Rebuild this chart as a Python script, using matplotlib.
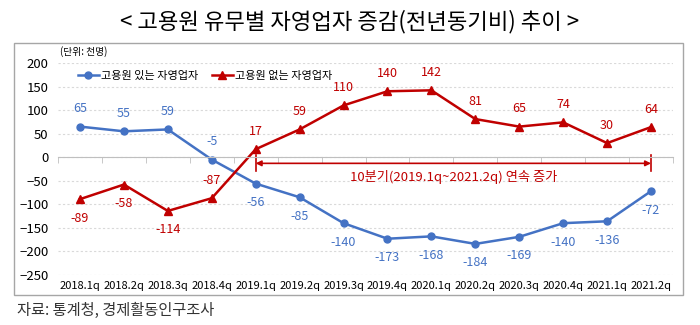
import matplotlib
matplotlib.use("Agg")
import matplotlib.pyplot as plt
from matplotlib.patches import Rectangle
import numpy as np

plt.rcParams["font.family"] = ["Noto Sans CJK KR", "DejaVu Sans"]

# ── 데이터 ────────────────────────────────────────────────
quarters = ["2018.1q", "2018.2q", "2018.3q", "2018.4q",
            "2019.1q", "2019.2q", "2019.3q", "2019.4q",
            "2020.1q", "2020.2q", "2020.3q", "2020.4q",
            "2021.1q", "2021.2q"]
with_emp = [65, 55, 59, -5, -56, -85, -140, -173, -168, -184, -169, -140, -136, -72]
without_emp = [-89, -58, -114, -87, 17, 59, 110, 140, 142, 81, 65, 74, 30, 64]
with_label_above = [True, True, True, True] + [False] * 10
without_label_above = [False, False, False, True] + [True] * 10

BLUE = "#4472C4"
RED = "#C00000"

fig = plt.figure(figsize=(7, 3.25), dpi=100)
ax = fig.add_axes([58 / 700, 50 / 325, 615 / 700, 212 / 325])

x = np.arange(len(quarters))
ax.plot(x, with_emp, color=BLUE, lw=1.8, marker="o", ms=5,
        label="고용원 있는 자영업자")
ax.plot(x, without_emp, color=RED, lw=1.8, marker="^", ms=5.5,
        label="고용원 없는 자영업자")

for xi, v, up in zip(x, with_emp, with_label_above):
    ax.annotate(f"{v}", (xi, v), xytext=(0, 8 if up else -9),
                textcoords="offset points", ha="center",
                va="bottom" if up else "top", fontsize=9, color=BLUE)
for xi, v, up in zip(x, without_emp, without_label_above):
    ax.annotate(f"{v}", (xi, v), xytext=(0, 8 if up else -9),
                textcoords="offset points", ha="center",
                va="bottom" if up else "top", fontsize=9, color=RED)

# 연속 증가 구간 화살표
ax.annotate("", xy=(4, -13), xytext=(13, -13),
            arrowprops=dict(arrowstyle="<|-|>", color=RED, lw=1.2,
                            mutation_scale=8, shrinkA=0, shrinkB=0))
ax.plot([4, 4], [5, -30], color=RED, lw=1.2)
ax.plot([13, 13], [5, -30], color=RED, lw=1.2)
ax.text(8.5, -41, "10분기(2019.1q~2021.2q) 연속 증가", color=RED,
        fontsize=9.5, ha="center", va="center")

# 축
ax.set_xlim(-0.5, 13.5)
ax.set_ylim(-250, 200)
ax.set_yticks(np.arange(-250, 201, 50))
ax.tick_params(axis="y", length=0, labelsize=9.5, pad=7)
ax.yaxis.grid(True, linestyle=(0, (2, 2)), color="#D9D9D9", lw=0.8)
ax.set_axisbelow(True)
for s in ["left", "right", "top"]:
    ax.spines[s].set_visible(False)
ax.spines["bottom"].set_position(("data", 0))
ax.spines["bottom"].set_color("#BFBFBF")
ax.set_xticks([])
ax.set_xticks(np.arange(-0.5, 14, 1), minor=True)
ax.tick_params(axis="x", which="minor", length=4, direction="out",
               color="#BFBFBF", labelbottom=False)

sec = ax.secondary_xaxis("bottom")
sec.set_xticks(x, quarters)
sec.tick_params(length=0, labelsize=8, pad=4)
sec.spines["bottom"].set_visible(False)

ax.legend(loc="center left", bbox_to_anchor=(0.032, 1 - 13 / 212), ncol=2,
          frameon=False, fontsize=8, handlelength=1.9, columnspacing=1.2,
          handletextpad=0.2, borderpad=0, borderaxespad=0)

# 텍스트
fig.text(0.5, 1 - 22 / 325, "< 고용원 유무별 자영업자 증감(전년동기비) 추이 >",
         ha="center", va="center", fontsize=16)
fig.text(60 / 700, 1 - 52 / 325, "(단위: 천명)", fontsize=7, va="center")
fig.text(17 / 700, 1 - 310 / 325, "자료: 통계청, 경제활동인구조사",
         fontsize=11, va="center", color="#333333")

fig.patches.append(Rectangle((14 / 700, 1 - 295 / 325), 669 / 700, 252 / 325,
                             transform=fig.transFigure, fill=False,
                             edgecolor="#A6A6A6", lw=1))

fig.savefig("out.png", dpi=100)
